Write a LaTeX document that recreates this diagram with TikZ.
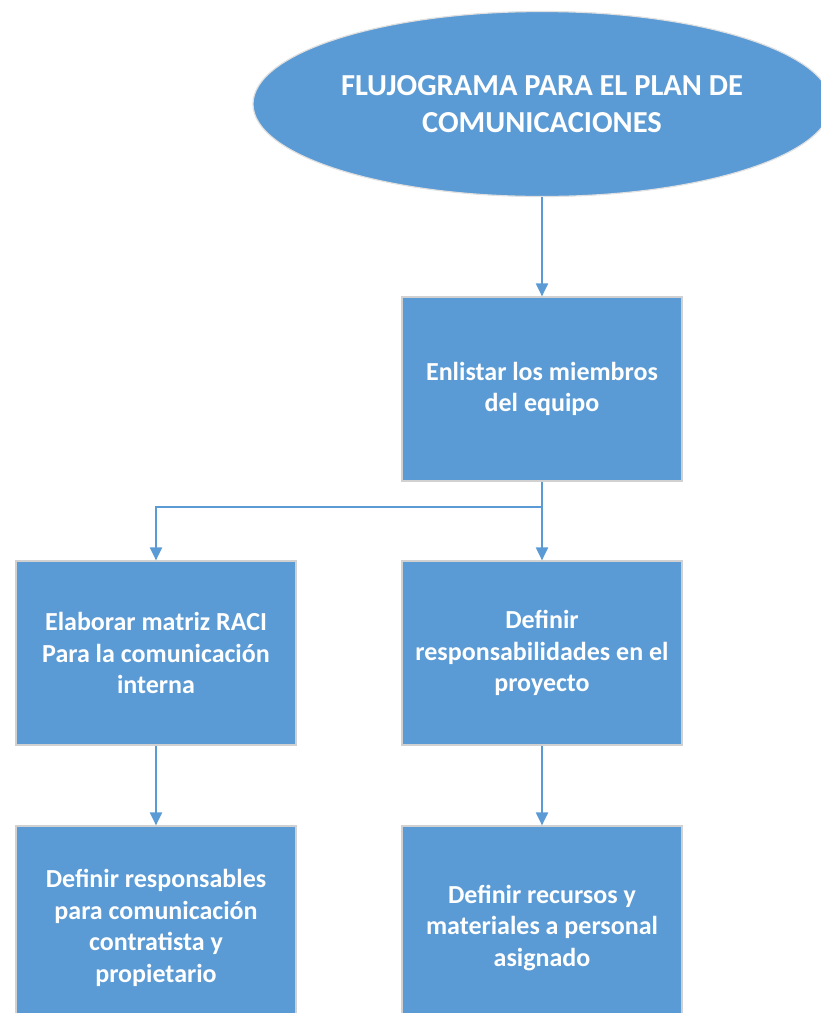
\documentclass[tikz,border=0pt]{standalone}
\usepackage{fontspec}
\setmainfont{Carlito}
\usepackage{xcolor}
\usetikzlibrary{arrows.meta,shapes.geometric}
\definecolor{azul}{RGB}{91,155,213}
\tikzset{
  caja/.style={rectangle,fill=azul,draw=black!18,line width=1.2pt,
    minimum width=280pt,minimum height=184pt,inner sep=0pt,align=center,
    text=white,font=\bfseries\fontsize{26}{31.5}\selectfont},
  cajabaja/.style={caja,minimum height=204pt},
  elipse/.style={ellipse,fill=azul,draw=black!12,line width=1.2pt,
    minimum width=578pt,minimum height=185pt,inner sep=0pt,align=center,
    text=white,font=\bfseries\fontsize{30.5}{37}\selectfont},
  flecha/.style={draw=azul,line width=2pt,
    -{Triangle[width=12pt,length=13pt,fill=azul]}}
}

\begin{document}
\begin{tikzpicture}[x=1pt,y=-1pt]
  \useasboundingbox (0,0) rectangle (821,1013);
  % nodos
  \node[elipse] (titulo) at (542,104) {FLUJOGRAMA PARA EL PLAN DE\\COMUNICACIONES};
  \node[caja] (enlistar) at (542,389) {Enlistar los miembros\\del equipo};
  \node[caja] (raci) at (156,653) {Elaborar matriz RACI\\Para la comunicación\\interna};
  \node[caja] (resp) at (542,653) {Definir\\responsabilidades en el\\proyecto};
  \node[cajabaja] (contrat) at (156,928) {Definir responsables\\para comunicación\\contratista y\\propietario};
  \node[cajabaja] (recursos) at (542,928) {Definir recursos y\\materiales a personal\\asignado};
  % conectores
  \draw[flecha] (titulo.south) -- (enlistar.north);
  \draw[flecha] (enlistar.south) -- (resp.north);
  \draw[flecha] (enlistar.south) -- ++(0,25) -| (raci.north);
  \draw[flecha] (raci.south) -- (contrat.north);
  \draw[flecha] (resp.south) -- (recursos.north);
\end{tikzpicture}
\end{document}
